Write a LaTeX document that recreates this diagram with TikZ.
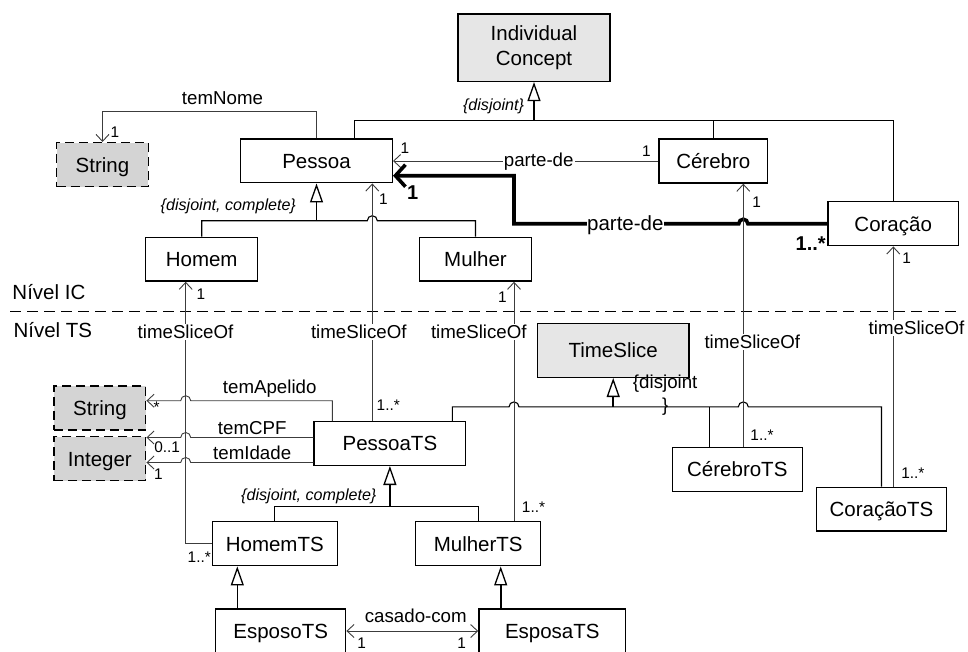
\documentclass[tikz,border=0pt]{standalone}
\usepackage{fontspec}
\setmainfont{Liberation Sans}
\usetikzlibrary{arrows.meta,calc}
\definecolor{icfill}{HTML}{E6E6E6}
\definecolor{dtfill}{HTML}{D4D4D4}
\definecolor{linegray}{HTML}{3C3C3C}
\newcommand{\boxfont}{\fontsize{20.5}{25}\selectfont}
\newcommand{\labfont}{\fontsize{18.7}{23.5}\selectfont}
\newcommand{\multfont}{\fontsize{15.4}{17}\selectfont}
\newcommand{\constrfont}{\fontsize{16.1}{18}\selectfont\itshape}
\begin{document}
\begin{tikzpicture}[x=1pt,y=-1pt,
  boxbase/.style={draw=black,line width=1.4pt,fill=white,inner sep=0pt,font=\boxfont,align=center},
  cls/.style={boxbase,text height=14.7pt,text depth=0pt},
  abstr/.style={cls,fill=icfill},
  dtype/.style={cls,fill=dtfill,dash pattern=on 9pt off 5pt},
  sz/.style 2 args={minimum width=#1pt,minimum height=#2pt},
  barb/.tip={Straight Barb[length=7pt,width=13pt]},
  assoc/.style={draw=linegray,line width=0.9pt,-barb},
  genline/.style={draw=black,line width=1.1pt},
  gen/.style={draw=black,line width=1.6pt,-{Triangle[open,length=19pt,width=13pt,line width=1.3pt,fill=white]}},
  strong/.style={draw=black,line width=3.6pt,-{Straight Barb[length=10pt,width=22pt]}},
  lab/.style={font=\labfont,inner sep=1pt},
  lbg/.style={lab,fill=white},
  mult/.style={font=\multfont,inner sep=0pt},
  boldmult/.style={font=\fontsize{20}{22}\selectfont\bfseries,inner sep=0pt},
  constr/.style={font=\constrfont,inner sep=0pt},
]
\useasboundingbox (0,0) rectangle (968,651);

% ---------- classes ----------
\node[boxbase,fill=icfill,minimum width=152pt,minimum height=67.3pt] (ic) at (534,47.7) {Individual\\Concept};
\node[dtype,sz={91.6}{44}] (strtop) at (102.5,164.7) {String};
\node[cls,sz={151.6}{43.7}] (pessoa) at (316.5,160.9) {Pessoa};
\node[cls,sz={108.7}{44}] (cerebro) at (713.3,161) {Cérebro};
\node[cls,sz={130.3}{44}] (coracao) at (893.2,223.7) {Coração};
\node[cls,sz={112}{43.7}] (homem) at (201.7,259.2) {Homem};
\node[cls,sz={112.4}{43.7}] (mulher) at (475.5,259.2) {Mulher};
\node[abstr,sz={151.7}{54}] (timeslice) at (613.2,350.3) {TimeSlice};
\node[dtype,sz={91.7}{44}] (strlow) at (99.9,408) {String};
\node[dtype,sz={91.7}{44}] (integer) at (99.9,458.7) {Integer};
\node[cls,sz={151.7}{43.6}] (pessoats) at (389.9,443.5) {PessoaTS};
\node[cls,sz={130}{44.4}] (cerebrots) at (737.3,469.5) {CérebroTS};
\node[cls,sz={130.4}{43.7}] (coracaots) at (881.5,509.2) {CoraçãoTS};
\node[cls,sz={125}{44}] (homemts) at (274.8,543.7) {HomemTS};
\node[cls,sz={125}{44}] (mulherts) at (478.2,543.7) {MulherTS};
\node[cls,sz={130}{44}] (esposots) at (280.7,631) {EsposoTS};
\node[cls,sz={146.7}{44}] (esposats) at (552.3,631) {EsposaTS};

% ---------- helper coordinates ----------
\coordinate (xH) at (185.7,0);   % Homem timeSliceOf
\coordinate (xP) at (372.3,0);   % Pessoa timeSliceOf
\coordinate (xM) at (514,0);     % Mulher timeSliceOf
\coordinate (xC) at (743.3,0);   % Cerebro timeSliceOf
\coordinate (xK) at (893.3,0);   % Coracao timeSliceOf
\coordinate (xA) at (332.3,0);   % temApelido
\coordinate (xB) at (452.3,0);   % PessoaTS -> TimeSlice
\coordinate (xCs) at (709.3,0);  % CerebroTS -> TimeSlice
\coordinate (xE) at (237.3,0);   % EsposoTS -> HomemTS
\coordinate (xF) at (500.7,0);   % EsposaTS -> MulherTS
\coordinate (yA) at (0,400.7);
\coordinate (yCPF) at (0,437.5);
\coordinate (yId) at (0,462.5);
\coordinate (icbus) at (534,120.7);
\coordinate (pbus) at (316.5,220.7);
\coordinate (ptsbus) at (389.9,506.7);
\coordinate (tsbus) at (613.2,406.9);
\coordinate (bend) at (514,175.7);

% ---------- level separator ----------
\coordinate (sepL) at (10,311.7);
\coordinate (sepR) at (960,311.7);
\draw[line width=1pt,dash pattern=on 11pt off 6pt] (sepL) -- (sepR);

% ---------- generalizations ----------
\draw[genline] ($(pessoa.north west)+(114.3,0)$) |- (icbus) -| (coracao.north);
\draw[genline] (cerebro.north) -- (cerebro.north |- icbus);
\draw[gen] (icbus) -- (ic.south);

\draw[genline] (homem.north) |- ($(xP |- pbus)+(-5,0)$)
  arc[start angle=180,end angle=0,radius=5pt] -| (mulher.north);
\draw[gen] (pbus) -- (pessoa.south);

\draw[genline] (homemts.north) |- (ptsbus) -| (mulherts.north);
\draw[gen] (ptsbus) -- (pessoats.south);

\draw[genline] (pessoats.north -| xB) |- ($(xM |- tsbus)+(-5,0)$)
  arc[start angle=180,end angle=0,radius=5pt] -- ($(xC |- tsbus)+(-5,0)$)
  arc[start angle=180,end angle=0,radius=5pt] -| (coracaots.north);
\draw[genline] (cerebrots.north -| xCs) -- (xCs |- tsbus);
\draw[gen] (tsbus) -- (timeslice.south);

\draw[gen] (esposots.north -| xE) -- (homemts.south -| xE);
\draw[gen] (esposats.north -| xF) -- (mulherts.south -| xF);

% ---------- associations ----------
\draw[assoc] (pessoa.north) -- ++(0,-26.7) -| (strtop.north);
\draw[assoc] (cerebro.west) -- (pessoa.east |- cerebro.west);
\draw[strong] (coracao.west) -- ($(xC |- coracao.west)+(4.5,0)$)
  arc[start angle=0,end angle=180,radius=4.5pt] -- (coracao.west -| bend) -- (bend) -- (pessoa.east |- bend);

\draw[assoc] (homemts.west) -| (homem.south -| xH);
\draw[assoc] (pessoats.north -| xP) -- (pessoa.south -| xP);
\draw[assoc] (mulherts.north -| xM) -- (mulher.south -| xM);
\draw[assoc] (cerebrots.north -| xC) -- (cerebro.south -| xC);
\draw[assoc] (coracaots.north -| xK) -- (coracao.south -| xK);

\draw[assoc] (pessoats.north -| xA) |- ($(xH |- yA)+(5,0)$)
  arc[start angle=0,end angle=180,radius=5pt] -- (strlow.east |- yA);
\draw[assoc] (pessoats.west |- yCPF) -- ($(xH |- yCPF)+(5,0)$)
  arc[start angle=0,end angle=180,radius=5pt] -- (integer.east |- yCPF);
\draw[assoc] (pessoats.west |- yId) -- ($(xH |- yId)+(5,0)$)
  arc[start angle=0,end angle=180,radius=5pt] -- (integer.east |- yId);

\draw[draw=linegray,line width=0.9pt,barb-barb] (esposots.east) -- (esposats.west);

% ---------- association labels ----------
\node[lab] at (222.5,97.7) {temNome};
\node[lbg] at (538.7,161.7) {parte-de};
\node[lbg,font=\boxfont,inner sep=0.5pt] at (625.3,225) {parte-de};
\node[lbg] at (185.5,331.7) {timeSliceOf};
\node[lbg] at (358.8,331.7) {timeSliceOf};
\node[lbg] at (478.8,331.7) {timeSliceOf};
\node[lbg] at (752.3,341.7) {timeSliceOf};
\node[lbg] at (916.5,328.3) {timeSliceOf};
\node[lab] at (269.7,389) {temApelido};
\node[lab] at (252.2,428.5) {temCPF};
\node[lab] at (252.2,452.7) {temIdade};
\node[lab] at (415.8,615.7) {casado-com};

% ---------- multiplicities ----------
\node[mult] at (115,132) {1};
\node[mult] at (405,148.3) {1};
\node[mult] at (646.3,150.7) {1};
\node[boldmult] at (412.7,192.7) {1};
\node[boldmult] at (810.7,243.3) {1..*};
\node[mult] at (201,294.3) {1};
\node[mult] at (383.3,199.3) {1};
\node[mult] at (502.3,296.7) {1};
\node[mult] at (756.7,201.7) {1};
\node[mult] at (906.7,258.3) {1};
\node[mult] at (199.3,557.3) {1..*};
\node[mult] at (388.3,405) {1..*};
\node[mult] at (533.5,506.7) {1..*};
\node[mult] at (762,435) {1..*};
\node[mult] at (912.8,473.3) {1..*};
\node[mult] at (156.7,407.3) {*};
\node[mult] at (167.2,446.7) {0..1};
\node[mult] at (158.3,474) {1};
\node[mult] at (361.7,642.7) {1};
\node[mult] at (461.7,642.7) {1};

% ---------- constraints ----------
\node[constr] at (493.5,106.7) {\{disjoint\}};
\node[constr] at (228.3,206.7) {\{disjoint, complete\}};
\node[constr] at (308.8,496.7) {\{disjoint, complete\}};
\node[lab,align=center,inner sep=0pt] at (665.2,395.3) {\{disjoint\\\}};

% ---------- levels ----------
\node[font=\boxfont,anchor=west,inner sep=0pt] at (12.3,291.7) {Nível IC};
\node[font=\boxfont,anchor=west,inner sep=0pt] at (13.3,330) {Nível TS};
\end{tikzpicture}
\end{document}
